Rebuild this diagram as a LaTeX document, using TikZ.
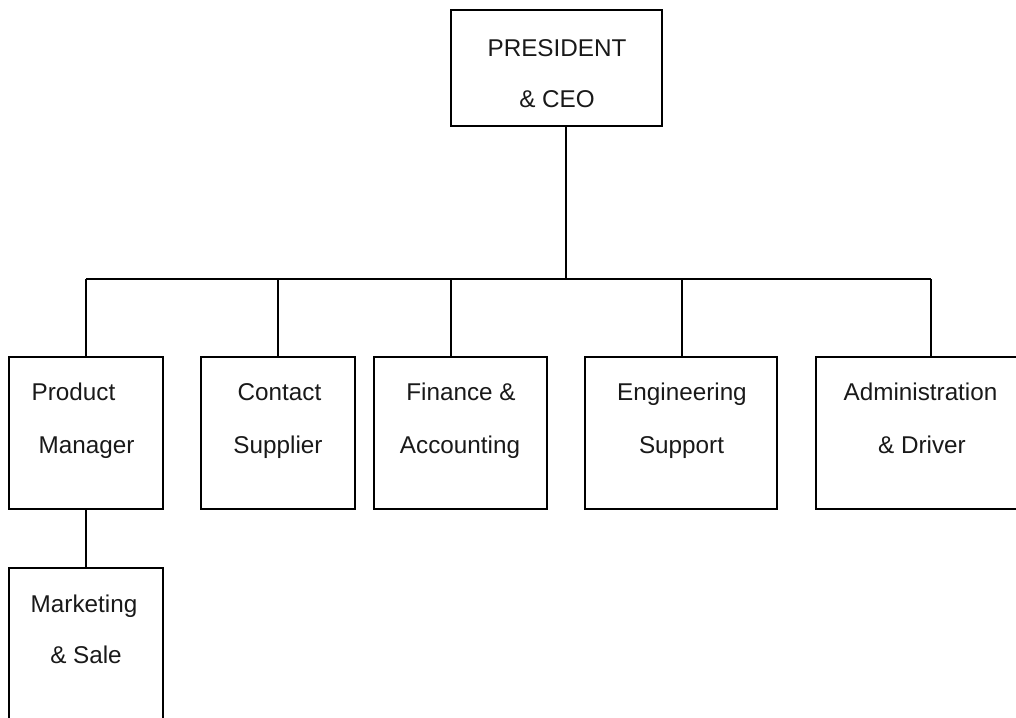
\documentclass[tikz,border=0pt]{standalone}
\usepackage{fontspec}
\setmainfont{Liberation Sans}
\usetikzlibrary{fit}
\begin{document}
\begin{tikzpicture}[x=0.75pt,y=-0.75pt,
  box/.style={draw=black, line width=1.4pt, inner sep=0pt, fill=none},
  lbl/.style={anchor=base, inner sep=0pt, font=\fontsize{18.2pt}{20pt}\selectfont, text=black!90},
  link/.style={draw=black, line width=1.3pt}]
\useasboundingbox (0,0) rectangle (1016,717);
\clip (0,0) rectangle (1016,717);

% boxes
\node[box, fit={(451,10) (662,126)}] (ceo) {};
\node[box, fit={(9,357) (163,509)}] (pm) {};
\node[box, fit={(201,357) (355,509)}] (cs) {};
\node[box, fit={(374,357) (547,509)}] (fa) {};
\node[box, fit={(585,357) (777,509)}] (es) {};
\node[box, fit={(816,357) (1030,509)}] (ad) {};
\node[box, fit={(9,568) (163,740)}] (ms) {};

% labels
\node[lbl] (ceo1) at (557,56) {PRESIDENT};
\node[lbl] (ceo2) at (557,108) {\& CEO};
\node[lbl] (pm1) at (73.5,400) {Product};
\node[lbl] (pm2) at (86.5,453) {Manager};
\node[lbl] (cs1) at (279.5,400) {Contact};
\node[lbl] (cs2) at (278,453) {Supplier};
\node[lbl] (fa1) at (461,400) {Finance \&};
\node[lbl] (fa2) at (460,453) {Accounting};
\node[lbl] (es1) at (682,400) {Engineering};
\node[lbl] (es2) at (681.5,453) {Support};
\node[lbl] (ad1) at (920.5,400) {Administration};
\node[lbl] (ad2) at (922,453) {\& Driver};
\node[lbl] (ms1) at (84,612) {Marketing};
\node[lbl] (ms2) at (86,663) {\& Sale};

% connector points on the bus
\coordinate (top) at (566,279);
\coordinate (dpm) at (86,279);
\coordinate (dcs) at (278,279);
\coordinate (dfa) at (451,279);
\coordinate (des) at (682,279);
\coordinate (dad) at (931,279);

% connectors
\draw[link] (top |- ceo.south) -- (top);
\draw[link] (dpm) -- (dad);
\draw[link] (dpm) -- (dpm |- pm.north);
\draw[link] (dcs) -- (dcs |- cs.north);
\draw[link] (dfa) -- (dfa |- fa.north);
\draw[link] (des) -- (des |- es.north);
\draw[link] (dad) -- (dad |- ad.north);
\draw[link] (dpm |- pm.south) -- (dpm |- ms.north);
\end{tikzpicture}
\end{document}
